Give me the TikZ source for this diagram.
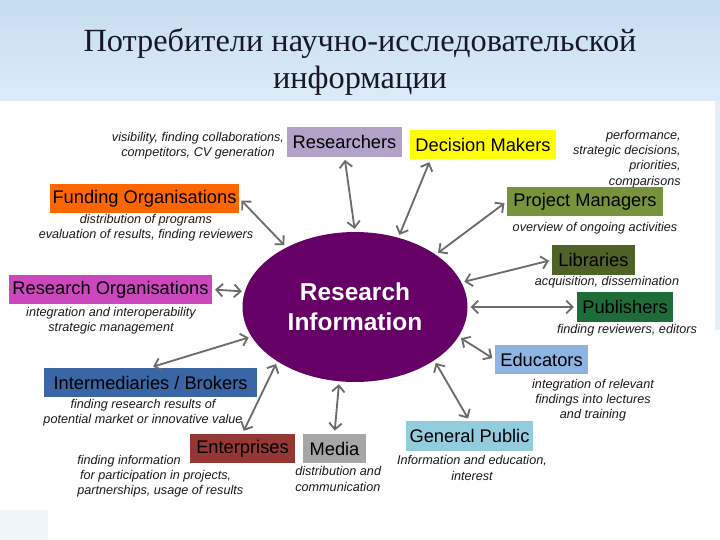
\documentclass[tikz,border=0pt]{standalone}
\usepackage{fontspec}
\setmainfont{Liberation Sans}
\newfontfamily\titlefont{Liberation Serif}
\usetikzlibrary{arrows.meta,shapes.geometric}
\definecolor{skytop}{RGB}{198,222,241}
\definecolor{skybot}{RGB}{220,235,247}
\definecolor{sidestrip}{RGB}{228,239,248}
\definecolor{cornerpatch}{RGB}{240,245,250}
\definecolor{titleink}{RGB}{22,24,40}
\definecolor{infopurple}{RGB}{102,0,102}
\definecolor{resviolet}{RGB}{178,162,199}
\definecolor{dmyellow}{RGB}{255,255,0}
\definecolor{pmolive}{RGB}{119,147,60}
\definecolor{libolive}{RGB}{79,98,40}
\definecolor{pubgreen}{RGB}{30,108,56}
\definecolor{fundorange}{RGB}{255,102,0}
\definecolor{rorgmagenta}{RGB}{204,70,190}
\definecolor{interblue}{RGB}{58,102,166}
\definecolor{entred}{RGB}{149,55,53}
\definecolor{mediagray}{RGB}{166,166,166}
\definecolor{edublue}{RGB}{142,180,227}
\definecolor{gpcyan}{RGB}{147,205,221}
\begin{document}
\begin{tikzpicture}[>={Straight Barb[length=4.5pt,width=9pt]},font=\fontsize{13}{15.5}\selectfont,x=1.000cm,y=1.000cm,
 box/.style={inner sep=2pt,minimum height=0.74cm,text=black},
 note/.style={font=\fontsize{9}{10.8}\selectfont\itshape,inner sep=0pt,align=center,text=black!90},
 conn/.style={<->,draw=black!58,line width=1.3pt,shorten <=2pt,shorten >=2pt}]
\shade[top color=skytop,bottom color=skybot] (0,0) rectangle (18.000,-2.500);
\fill[sidestrip] (17.875,-2.500) rectangle (18.000,-8.250);
\fill[cornerpatch] (0,-12.750) rectangle (1.200,-13.500);
\useasboundingbox (0,0) rectangle (18.000,-13.500);
\node[font=\titlefont\fontsize{23}{26.3}\selectfont,text=titleink,align=center] (title) at (9.000,-1.538) {Потребители научно-исследовательской\\информации};
\node[ellipse,fill=infopurple,minimum width=5.625cm,minimum height=3.750cm,text=white,font=\fontsize{17.4}{21.3}\selectfont\bfseries,align=center] (info) at (8.875,-7.675) {Research\\Information};
\node[box,fill=resviolet,minimum width=2.875cm] (res) at (8.613,-3.550) {Researchers};
\node[box,fill=dmyellow,minimum width=3.650cm] (dm) at (12.075,-3.613) {Decision Makers};
\node[box,fill=pmolive,minimum width=3.900cm] (pm) at (14.625,-5.038) {Project Managers};
\node[box,fill=libolive,minimum width=2.075cm] (lib) at (14.838,-6.500) {Libraries};
\node[box,fill=pubgreen,minimum width=2.400cm] (pub) at (15.625,-7.675) {Publishers};
\node[box,fill=fundorange,minimum width=4.725cm] (fund) at (3.613,-4.963) {Funding Organisations};
\node[box,fill=rorgmagenta,minimum width=5.075cm] (rorg) at (2.763,-7.238) {Research Organisations};
\node[box,fill=interblue,minimum width=5.325cm] (inter) at (3.763,-9.563) {Intermediaries / Brokers};
\node[box,fill=entred,minimum width=2.625cm] (ent) at (6.063,-11.213) {Enterprises};
\node[box,fill=mediagray,minimum width=1.575cm] (media) at (8.363,-11.213) {Media};
\node[box,fill=edublue,minimum width=2.325cm] (edu) at (13.538,-8.988) {Educators};
\node[box,fill=gpcyan,minimum width=3.175cm] (gp) at (11.738,-10.900) {General Public};
\node[note] (resn) at (4.950,-3.650) {visibility, finding collaborations,\\competitors, CV generation};
\node[note,anchor=east,align=right] (dmn) at (17.025,-3.975) {performance,\\strategic decisions,\\priorities,\\comparisons};
\node[note] (pmn) at (14.875,-5.700) {overview of ongoing activities};
\node[note] (libn) at (15.175,-7.050) {acquisition, dissemination};
\node[note] (pubn) at (15.675,-8.250) {finding reviewers, editors};
\node[note] (fundn) at (3.650,-5.700) {distribution of programs\\evaluation of results, finding reviewers};
\node[note] (rorgn) at (2.775,-8.025) {integration and interoperability\\strategic management};
\node[note] (intern) at (3.575,-10.325) {finding research results of\\potential market or innovative value};
\node[note,anchor=west,align=left] (entn) at (1.925,-11.900) {finding information\\\hspace{2pt}for participation in projects,\\partnerships, usage of results};
\node[note,anchor=west,align=left] (median) at (7.375,-11.975) {distribution and\\communication};
\node[note] (edun) at (14.825,-10.000) {integration of relevant\\findings into lectures\\and training};
\node[note] (gpn) at (11.800,-11.700) {Information and education,\\interest};
\draw[conn] (res.south) --  (info.90);
\draw[conn] (dm.196) --  (info.58);
\draw[conn] (pm.west) --  (info.33);
\draw[conn] (lib.west) --  (info.13);
\draw[conn] (pub.west) --  (info.east);
\draw[conn] (edu.west) --  (info.-16);
\draw[conn] (gp.north) --  (info.-34);
\draw[conn] (media.north) --  (info.-102);
\draw[conn] (ent.north) --  (info.215);
\draw[conn] (inter.north) --  (info.196);
\draw[conn] (rorg.east) --  (info.172);
\draw[conn] (fund.east) --  (info.139);
\end{tikzpicture}
\end{document}
